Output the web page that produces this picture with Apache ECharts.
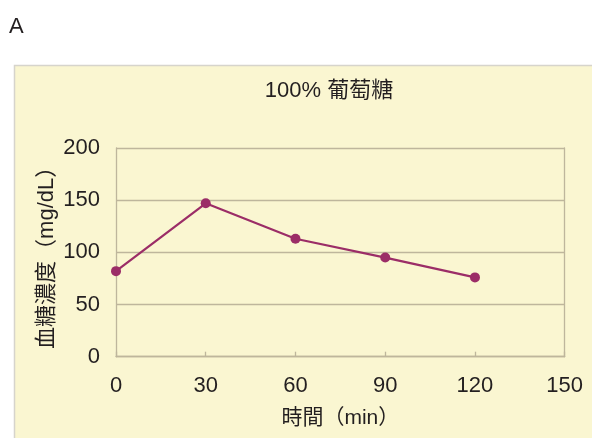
<!DOCTYPE html>
<html>
<head>
<meta charset="utf-8">
<script src="https://cdn.jsdelivr.net/npm/echarts@6/dist/echarts.min.js"></script>
<style>
html,body{margin:0;padding:0;background:#fff;}
#chart{width:592px;height:438px;}
</style>
</head>
<body>
<div id="chart"></div>
<script>
const panelLabel = 'A';
const chartTitle = '100% 葡萄糖';
const xName = '時間（min）';
const yName = '血糖濃度（mg/dL）';
const timeMin = [0, 30, 60, 90, 120];
const glucose = [82, 147, 113, 95, 76];

const chart = echarts.init(document.getElementById('chart'), null, {renderer: 'canvas'});
const txt = '#231f20';
const gridCol = '#beb69c';
const fontLatin = '"Liberation Sans", Arial, "Noto Sans CJK TC", sans-serif';

chart.setOption({
  backgroundColor: '#ffffff',
  animation: false,
  graphic: [{
    type: 'rect',
    z: -10,
    shape: {x: 14.5, y: 65.5, width: 600, height: 400},
    style: {fill: '#faf6d1', stroke: '#d6d4cc', lineWidth: 1.5}
  }],
  title: [{
    text: panelLabel,
    left: 4, top: 11,
    textStyle: {fontFamily: fontLatin, fontSize: 22, fontWeight: 'normal', color: txt}
  }, {
    text: chartTitle,
    left: 324, top: 75, textAlign: 'center',
    textStyle: {fontFamily: fontLatin, fontSize: 22, fontWeight: 'normal', color: txt}
  }],
  grid: {left: 116, top: 148, right: 27.3, bottom: 81.3, containLabel: false},
  xAxis: {
    type: 'value', min: 0, max: 150, interval: 30,
    name: xName, nameLocation: 'middle', nameGap: 51, nameMoveOverlap: false,
    nameTextStyle: {fontFamily: fontLatin, fontSize: 21, color: txt},
    axisLine: {show: true, lineStyle: {color: gridCol, width: 1.3}},
    axisTick: {show: true, inside: true, length: 5, lineStyle: {color: gridCol, width: 1.3}},
    axisLabel: {fontFamily: fontLatin, fontSize: 22, color: txt, margin: 18},
    splitLine: {show: false}
  },
  yAxis: [{
    type: 'value', min: 0, max: 200, interval: 50,
    name: yName, nameLocation: 'middle', nameGap: 58, nameRotate: 90, nameMoveOverlap: false,
    nameTextStyle: {fontFamily: fontLatin, fontSize: 22, color: txt},
    axisLine: {show: true, lineStyle: {color: gridCol, width: 1.3}},
    axisTick: {show: false},
    axisLabel: {fontFamily: fontLatin, fontSize: 22, color: txt, margin: 16},
    splitLine: {show: true, lineStyle: {color: gridCol, width: 1.3}}
  }, {
    type: 'value', min: 0, max: 200, interval: 50, position: 'right',
    axisLine: {show: true, lineStyle: {color: gridCol, width: 1.3}},
    axisTick: {show: false}, axisLabel: {show: false}, splitLine: {show: false}
  }],
  series: [{
    type: 'line',
    data: timeMin.map((t, i) => [t, glucose[i]]),
    symbol: 'circle', symbolSize: 10,
    lineStyle: {color: '#9b2d67', width: 2.2},
    itemStyle: {color: '#9b2d67'}
  }]
});
</script>
</body>
</html>
